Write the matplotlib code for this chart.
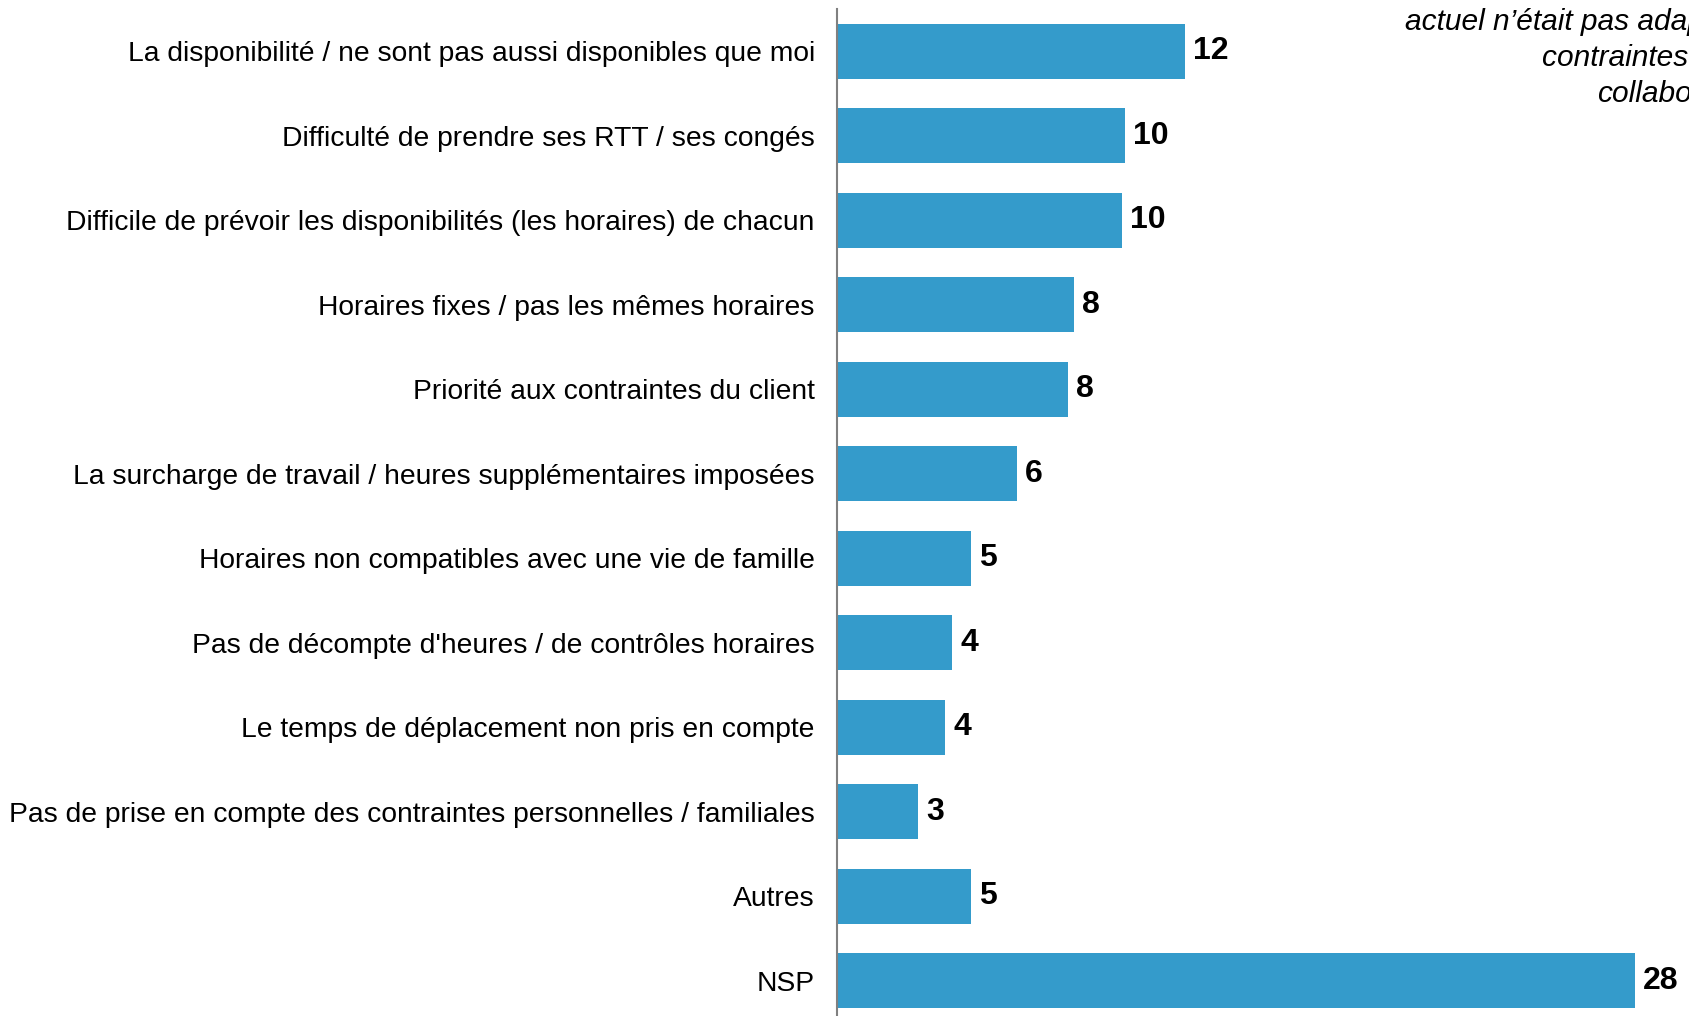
import matplotlib.pyplot as plt
import numpy as np

plt.rcParams['font.family'] = ['Liberation Sans', 'DejaVu Sans']

categories = [
    "La disponibilité / ne sont pas aussi disponibles que moi",
    "Difficulté de prendre ses RTT / ses congés",
    "Difficile de prévoir les disponibilités (les horaires) de chacun",
    "Horaires fixes / pas les mêmes horaires",
    "Priorité aux contraintes du client",
    "La surcharge de travail / heures supplémentaires imposées",
    "Horaires non compatibles avec une vie de famille",
    "Pas de décompte d'heures / de contrôles horaires",
    "Le temps de déplacement non pris en compte",
    "Pas de prise en compte des contraintes personnelles / familiales",
    "Autres",
    "NSP",
]
values = [12.2, 10.1, 10.0, 8.3, 8.1, 6.3, 4.7, 4.05, 3.8, 2.85, 4.7, 28]
value_labels = ["12", "10", "10", "8", "8", "6", "5", "4", "4", "3", "5", "28"]

note = ("Pour quelles raisons le temps de travail\n"
        "actuel n’était pas adapté aux\ncontraintes de vos\ncollaborateurs")

W, H = 1690, 1016
fig = plt.figure(figsize=(W / 100, H / 100), dpi=100)
ax = fig.add_axes([837 / W, -7 / H, 855 / W, 1014 / H])

y = np.arange(len(categories))
ax.barh(y, values, height=0.65, color="#349BCB")
ax.set_ylim(len(categories) - 0.5, -0.5)
ax.set_xlim(0, 30)

for yi, v, lab in zip(y, values, value_labels):
    ax.annotate(lab, (v, yi), xytext=(6, 0), textcoords="offset points",
                va="center", ha="left", fontsize=23, fontweight="bold")

ax.set_yticks(y)
ax.set_yticklabels(categories, fontsize=20.3)
ax.tick_params(axis="y", length=0, pad=16)
ax.set_xticks([])
for s in ["top", "right", "bottom"]:
    ax.spines[s].set_visible(False)
ax.spines["left"].set_color("#808080")
ax.spines["left"].set_linewidth(1.5)

fig.text(1785 / W, 1 - 102 / H, note, ha="right", va="baseline", fontsize=21.5,
         style="italic", multialignment="right", linespacing=1.36)

fig.savefig("out.png", dpi=100)
